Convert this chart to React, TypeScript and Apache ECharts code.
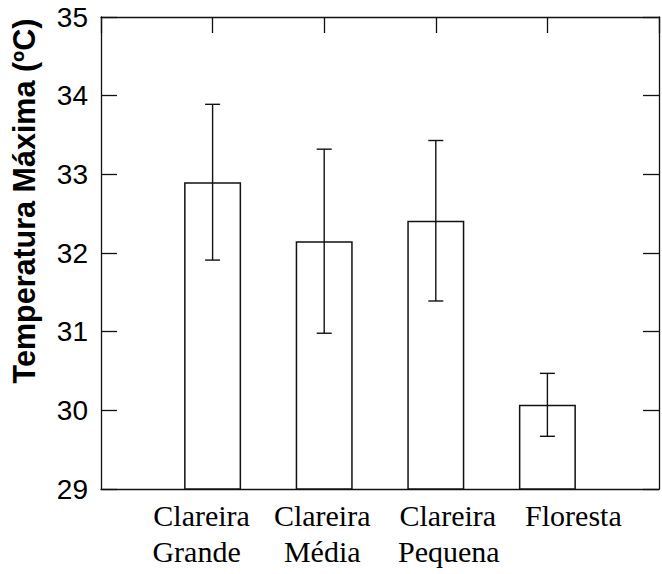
import React, { useEffect, useRef } from "react";
import * as echarts from "echarts";

// ---- data ----
const categories = ["Clareira\nGrande", "Clareira\nMédia", "Clareira\nPequena", "Floresta"];
const positions = [1, 2, 3, 4];
const means = [32.9, 32.15, 32.41, 30.07];
const errors = [0.99, 1.17, 1.02, 0.4];
const yMin = 29;
const yMax = 35;
const yStep = 1;
const yTitle = "Temperatura Máxima (ºC)";

// ---- styles ----
const INK = "#111";
const SERIF = "'Liberation Serif', 'Times New Roman', serif";
const SANS = "'Liberation Sans', Arial, Helvetica, sans-serif";
// horizontal nudges of each label line (pixels), as in the reference
const lineShift: number[][] = [[-11, -16], [-2, -2], [12, 13], [26]];

function buildRich() {
  const rich: Record<string, any> = {};
  lineShift.forEach((lines, i) => {
    lines.forEach((d, j) => {
      rich[`s${i}_${j}`] = {
        fontFamily: SERIF,
        fontSize: 30,
        lineHeight: 36,
        color: "#000",
        padding: d >= 0 ? [0, 0, 0, 2 * d] : [0, -2 * d, 0, 0],
      };
    });
  });
  return rich;
}

const mkLine = () => ({ show: true, onZero: false, lineStyle: { color: INK, width: 1.3 } });
// negative length draws the ticks towards the inside of the frame
const mkTick = () => ({ show: true, inside: false, length: -16, lineStyle: { color: INK, width: 1.3 } });

export default function App() {
  const ref = useRef<HTMLDivElement>(null);

  useEffect(() => {
    if (!ref.current) return;
    const chart = echarts.init(ref.current, undefined, { renderer: "svg" });

    const option: any = {
      animation: false,
      backgroundColor: "#fff",
      grid: { left: 100, right: -6, top: 17, bottom: 85, containLabel: false },
      xAxis: [
        {
          type: "value",
          position: "bottom",
          min: 0,
          max: 5,
          interval: 1,
          axisLine: mkLine(),
          axisTick: { show: false },
          splitLine: { show: false },
          axisLabel: {
            margin: 8,
            fontFamily: SERIF,
            fontSize: 30,
            lineHeight: 36,
            color: "#000",
            formatter: (v: number) => {
              const i = positions.indexOf(v);
              if (i < 0) return "";
              return categories[i]
                .split("\n")
                .map((t, j) => `{s${i}_${j}|${t}}`)
                .join("\n");
            },
            rich: buildRich(),
          },
        },
        {
          type: "value",
          position: "top",
          min: 0,
          max: 5,
          interval: 1,
          axisLine: mkLine(),
          axisTick: mkTick(),
          axisLabel: { show: false },
          splitLine: { show: false },
        },
      ],
      yAxis: [
        {
          type: "value",
          position: "left",
          min: yMin,
          max: yMax,
          interval: yStep,
          axisLine: mkLine(),
          axisTick: mkTick(),
          splitLine: { show: false },
          axisLabel: { margin: 13, fontFamily: SANS, fontSize: 28, color: "#000" },
          name: yTitle,
          nameLocation: "middle",
          nameGap: 62,
          nameRotate: 90,
          nameTextStyle: {
            fontFamily: SANS,
            fontWeight: "bold",
            fontSize: 30.5,
            color: "#000",
            padding: [0, 0, 0, 104],
          },
        },
        {
          type: "value",
          position: "right",
          min: yMin,
          max: yMax,
          interval: yStep,
          axisLine: mkLine(),
          axisTick: mkTick(),
          splitLine: { show: false },
          axisLabel: { show: false },
        },
      ],
      series: [
        {
          type: "bar",
          xAxisIndex: 0,
          yAxisIndex: 0,
          barWidth: 57,
          clip: true,
          data: positions.map((p, i) => [p, means[i]]),
          itemStyle: { color: "#fff", borderColor: INK, borderWidth: 1.5 },
          emphasis: { disabled: true },
        },
        {
          type: "custom",
          xAxisIndex: 0,
          yAxisIndex: 0,
          z: 5,
          data: positions.map((p, i) => [p, means[i] - errors[i], means[i] + errors[i]]),
          encode: { x: 0, y: [1, 2] },
          renderItem: (_params: any, api: any) => {
            const x = api.value(0);
            const lo = api.coord([x, api.value(1)]);
            const hi = api.coord([x, api.value(2)]);
            const cap = 7.5;
            const style = { stroke: INK, lineWidth: 1.4 };
            return {
              type: "group",
              children: [
                { type: "line", shape: { x1: lo[0], y1: lo[1], x2: hi[0], y2: hi[1] }, style },
                { type: "line", shape: { x1: lo[0] - cap, y1: lo[1], x2: lo[0] + cap, y2: lo[1] }, style },
                { type: "line", shape: { x1: hi[0] - cap, y1: hi[1], x2: hi[0] + cap, y2: hi[1] }, style },
              ],
            };
          },
        },
      ],
    };

    chart.setOption(option);
    return () => chart.dispose();
  }, []);

  return (
    <div
      ref={ref}
      style={{ position: "fixed", left: 0, top: 0, width: 662, height: 574, background: "#fff" }}
    />
  );
}
